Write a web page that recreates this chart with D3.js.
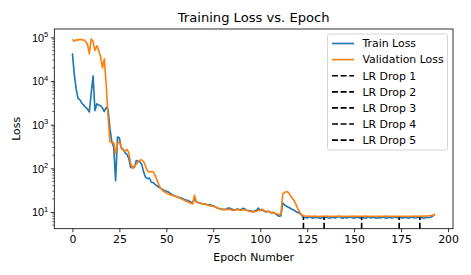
<!DOCTYPE html>
<html>
<head>
<meta charset="utf-8">
<script src="https://cdn.jsdelivr.net/npm/d3@7"></script>
<style>
  body { margin: 0; background: #fff; }
  svg { font-family: "DejaVu Sans", sans-serif; }
</style>
</head>
<body>
<div class="chart"></div>
<script>
// per-epoch losses
let trainLoss = [
  43000, 14000, 6500, 4000, 3700, 3100, 2800, 2500, 2300, 1950,
  5200, 13000, 2100, 3000, 2800, 2700, 2400, 2000, 2500, 2200,
  800, 400, 300, 52, 520, 500, 300, 270, 230, 210,
  170, 105, 110, 105, 150, 145, 140, 120, 80, 62,
  58, 60, 48, 47, 43, 40, 37, 35, 33, 31,
  30, 29, 27, 25, 24, 23, 22.5, 21.5, 21, 20,
  19, 18.5, 18, 17, 16.5, 20, 17, 16.5, 16, 15.5,
  15.5, 15, 14.5, 14.8, 14.2, 14, 13.2, 12.5, 12, 11.8,
  11.6, 11.5, 11.7, 12.3, 12.2, 11.5, 11.2, 11.4, 11.8, 11.2,
  11.5, 12.2, 11.6, 11, 10.8, 10.5, 10.2, 10.6, 11, 12.3,
  10.8, 11.2, 10.5, 10, 10.4, 10.1, 9.5, 9.8, 9.2, 8.5,
  8, 8.2, 16, 14.5, 13.5, 12.8, 12.2, 11.5, 11, 10.3,
  9.8, 9.3, 8.5, 7.6,
  7.5, 7.3, 7.8, 7.6, 7.2, 7.7, 7.4, 7.5, 7.1, 7.6,
  7.3, 7.8, 7.4, 7.2, 7.6, 7.5, 7.3, 7.7, 7.9, 7.4,
  7.2, 7.6, 7.3, 7.5, 7.8, 7.4, 7.2, 7.6, 7.5, 7.3,
  7.7, 7.4, 7.2, 7.5, 7.8, 7.3, 7.6, 7.4, 7.2, 7.5,
  7.3, 7.7, 7.5, 7.2, 7.4, 7.6, 7.3, 7.5, 7.8, 7.4,
  7.2, 7.5, 7.3, 7.6, 7.4, 7.2, 7.5, 7.7, 7.3, 7.4,
  7.6, 7.3, 7.5, 7.2, 7.4, 7.6, 7.5, 7.7, 8.2, 9.0
];
let valLoss = [
  90000, 82000, 88000, 86000, 90000, 87000, 88000, 80000, 70000, 42000,
  92000, 80000, 50000, 64000, 50000, 36000, 20000, 32000, 8000, 1500,
  400, 400, 380, 220, 370, 420, 290, 260, 250, 270,
  230, 130, 100, 110, 125, 140, 155, 155, 140, 110,
  87, 82, 85, 83, 70, 54, 42, 35, 31, 29,
  27.5, 26, 25, 24, 23.5, 22.5, 22, 21, 20, 19,
  18, 17.5, 16.5, 16, 15.3, 24, 17, 16.3, 16, 15.5,
  15, 15.2, 14.5, 14, 13.8, 13.5, 13, 12.5, 12, 11.6,
  11.3, 11.2, 11.4, 11.6, 11.5, 11, 10.8, 11.2, 11.5, 11,
  11, 11.3, 11.2, 10.8, 10.5, 10.3, 10, 10.2, 10.4, 10.8,
  11, 11.7, 10.8, 10.3, 10.4, 10, 9.8, 9.6, 9.3, 9,
  8.7, 8.9, 26, 28, 29.5, 28, 24, 21, 18.5, 15,
  12, 10, 8.6, 8.3,
  8.1, 8.0, 8.1, 8.0, 8.0, 8.1, 8.0, 7.9, 8.0, 8.0,
  8.0, 8.1, 8.0, 8.0, 7.9, 8.0, 8.0, 8.0, 8.1, 8.0,
  8.0, 8.0, 7.9, 8.0, 8.0, 8.1, 8.0, 8.0, 8.0, 8.0,
  8.0, 8.0, 8.1, 8.0, 8.0, 7.9, 8.0, 8.0, 8.0, 8.0,
  8.0, 8.0, 8.0, 8.1, 8.0, 8.0, 8.0, 7.9, 8.0, 8.0,
  8.0, 8.0, 8.0, 8.0, 8.0, 8.0, 8.0, 8.0, 8.1, 8.0,
  8.0, 8.0, 8.1, 8.0, 8.1, 8.1, 8.2, 8.3, 8.4, 8.5
];
let lrDropEpochs = [123, 134, 154, 174, 185];
let lrDropTop = 7.6;
let xTicks = [0, 25, 50, 75, 100, 125, 150, 175, 200];
let yTicks = [1e1, 1e2, 1e3, 1e4, 1e5];
let legendLabels = ['Train Loss', 'Validation Loss', 'LR Drop 1', 'LR Drop 2', 'LR Drop 3', 'LR Drop 4', 'LR Drop 5'];

let W = 471, H = 275;
let margin = { top: 29, right: 18, bottom: 46.3, left: 54.3 },
    width = W - margin.left - margin.right,
    height = H - margin.top - margin.bottom;
let fs = 10.9;  // 10pt at this figure's dpi

let svg = d3.select('.chart').append('svg')
    .attr('width', W).attr('height', H);
let g = svg.append('g')
    .attr('transform', 'translate(' + margin.left + ',' + margin.top + ')');

// matplotlib-style 5% padding
let n = trainLoss.length - 1;
let x = d3.scaleLinear().domain([-n * 0.05, n * 1.05]).range([0, width]);
let y = d3.scaleLog().domain([4.15, 1.55e5]).range([height, 0]);

// minor log ticks
let minor = [];
for (let k = 0; k <= 5; k++) {
    for (let m = 2; m <= 9; m++) {
        let v = m * Math.pow(10, k);
        if (v >= y.domain()[0] && v <= y.domain()[1]) minor.push(v);
    }
}
g.selectAll('.minor').data(minor).enter().append('line')
    .attr('x1', -2).attr('x2', 0)
    .attr('y1', d => y(d)).attr('y2', d => y(d))
    .attr('stroke', '#000').attr('stroke-width', 0.6);

let xAxis = g.append('g')
    .attr('transform', 'translate(0,' + height + ')')
    .call(d3.axisBottom(x).tickValues(xTicks).tickSize(3.5).tickPadding(3.5));
let yAxis = g.append('g')
    .call(d3.axisLeft(y).tickValues(yTicks).tickSize(3.5).tickPadding(3.5).tickFormat(''));
[xAxis, yAxis].forEach(a => {
    a.select('.domain').remove();
    a.selectAll('line').attr('stroke-width', 0.8);
    a.selectAll('text').attr('font-size', fs).attr('fill', '#000')
        .attr('font-family', '"DejaVu Sans", sans-serif');
});

// y labels as 10^k with superscript
yAxis.selectAll('.tick').each(function (d) {
    let t = d3.select(this).append('text')
        .attr('x', -6).attr('dy', '0.35em')
        .attr('text-anchor', 'end')
        .attr('font-size', fs).attr('fill', '#000');
    t.append('tspan').text('10');
    t.append('tspan').attr('font-size', 7.6).attr('dy', '-0.6em').text(Math.round(Math.log10(d)));
});

let clipId = 'plotclip';
g.append('clipPath').attr('id', clipId).append('rect')
    .attr('width', width).attr('height', height);

let line = d3.line().x((d, i) => x(i)).y(d => y(d));
let plot = g.append('g').attr('clip-path', 'url(#' + clipId + ')');

plot.append('path').datum(trainLoss)
    .attr('d', line).attr('fill', 'none')
    .attr('stroke', '#1f77b4').attr('stroke-width', 1.65).attr('stroke-linejoin', 'round');
plot.append('path').datum(valLoss)
    .attr('d', line).attr('fill', 'none')
    .attr('stroke', '#ff7f0e').attr('stroke-width', 1.65).attr('stroke-linejoin', 'round');

plot.selectAll('.lrdrop').data(lrDropEpochs).enter().append('line')
    .attr('x1', d => x(d)).attr('x2', d => x(d))
    .attr('y1', height).attr('y2', y(lrDropTop))
    .attr('stroke', '#000').attr('stroke-width', 1.65)
    .attr('stroke-dasharray', '6,2.6');

// frame
g.append('rect').attr('width', width).attr('height', height)
    .attr('fill', 'none').attr('stroke', '#000').attr('stroke-width', 0.8);

// title and axis names
svg.append('text')
    .attr('x', margin.left + width / 2).attr('y', 22)
    .attr('text-anchor', 'middle').attr('font-size', 13.1)
    .text('Training Loss vs. Epoch');
svg.append('text')
    .attr('x', margin.left + width / 2).attr('y', 261)
    .attr('text-anchor', 'middle').attr('font-size', fs)
    .text('Epoch Number');
svg.append('text')
    .attr('text-anchor', 'middle').attr('font-size', fs)
    .attr('transform', 'translate(20,' + (margin.top + height / 2) + ')rotate(-90)')
    .text('Loss');

// legend
let lg = svg.append('g').attr('transform', 'translate(327.5,34)');
lg.append('rect')
    .attr('width', 120).attr('height', 116).attr('rx', 2)
    .attr('fill', '#fff').attr('fill-opacity', 0.8)
    .attr('stroke', '#ccc').attr('stroke-width', 0.8);
let legendStyle = [
    { color: '#1f77b4', dash: null },
    { color: '#ff7f0e', dash: null }
];
legendLabels.forEach((lab, i) => {
    let st = legendStyle[i] || { color: '#000', dash: '6,2.6' };
    let cy = 9.5 + i * 16.1;
    lg.append('line')
        .attr('x1', 4.5).attr('x2', 26.5).attr('y1', cy).attr('y2', cy)
        .attr('stroke', st.color).attr('stroke-width', 1.65)
        .attr('stroke-dasharray', st.dash);
    lg.append('text')
        .attr('x', 35).attr('y', cy).attr('dy', '0.35em')
        .attr('font-size', fs).text(lab);
});
</script>
</body>
</html>
